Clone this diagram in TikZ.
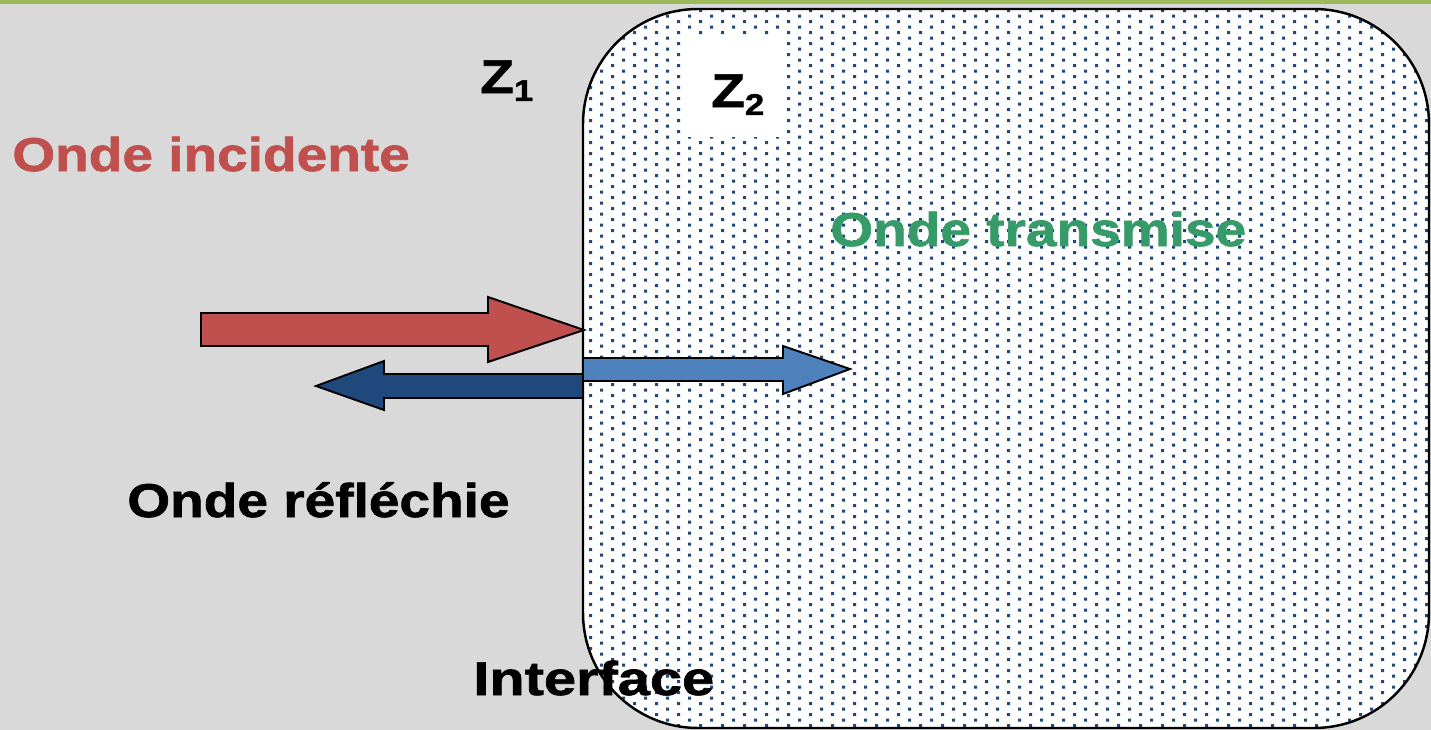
\documentclass[tikz,border=0pt]{standalone}
\usepackage{fontspec}
\newfontfamily\bsf[FakeStretch=1.16,BoldFont={Liberation Sans Bold},BoldFeatures={FakeBold=1.4}]{Liberation Sans}
\definecolor{bggray}{RGB}{217,217,217}
\definecolor{topgreen}{RGB}{155,187,89}
\definecolor{dotblue}{RGB}{31,73,125}
\definecolor{incred}{RGB}{192,80,77}
\definecolor{refblue}{RGB}{31,73,125}
\definecolor{trblue}{RGB}{79,129,189}
\definecolor{trgreen}{RGB}{54,155,104}
\tikzset{
  lbl/.style={inner sep=0pt, anchor=base west, font=\bsf\bfseries\fontsize{27}{30}\selectfont},
  blockarrow/.style={draw=black, line width=1.1pt, line join=miter},
}
\newcommand{\zsub}[1]{\raisebox{-4.5pt}{\fontsize{17}{17}\selectfont #1}}
\begin{document}
\begin{tikzpicture}[x=0.02cm,y=-0.02cm]
\useasboundingbox (0,0) rectangle (1431,730);
\fill[bggray] (0,0) rectangle (1431,730);
\fill[topgreen] (0,0) rectangle (1431,4);
% medium Z2
\fill[white, rounded corners=2.3cm] (583,9) rectangle (1429,728);
\begin{scope}
  \clip[rounded corners=2.3cm] (583,9) rectangle (1429,728);
  \fill[dotblue]
    \foreach \i in {0,...,38} {
      \foreach \j in {0,...,66} {
        ({590.5+22*\i-1.5},{-0.3+11*\j-1.5}) rectangle ++(3,3)
        ({601.5+22*\i-1.5},{5+11*\j-1.5}) rectangle ++(3,3)
      }
    };
\end{scope}
\draw[black, line width=1.4pt, rounded corners=2.3cm] (583,9) rectangle (1429,728);
\fill[white] (682,36) rectangle (785,137);
% labels
\node[lbl] (z1) at (480,93) {Z\zsub{1}};
\node[lbl] (z2) at (711,107) {Z\zsub{2}};
\node[lbl, text=incred] (inc) at (12,171) {Onde incidente};
\node[lbl, text=trgreen] (tr) at (830,246) {Onde transmise};
\node[lbl] (ref) at (127,517) {Onde réfléchie};
% arrows
\coordinate (inctip) at (584,330);
\coordinate (reftip) at (316,386);
\coordinate (trtip) at (850,369);
\filldraw[blockarrow, fill=incred] (201,313) -- (488,313) -- (488,297) -- (inctip) -- (488,362) -- (488,346) -- (201,346) -- cycle;
\filldraw[blockarrow, fill=refblue] (583,374) -- (384,374) -- (384,361) -- (reftip) -- (384,410) -- (384,398) -- (583,398) -- cycle;
\filldraw[blockarrow, fill=trblue] (583,358) -- (783,358) -- (783,346) -- (trtip) -- (783,394) -- (783,381) -- (583,381) -- cycle;
\node[lbl] (intf) at (473,695) {\scalebox{1.05}[1]{Interface}};
\end{tikzpicture}
\end{document}
